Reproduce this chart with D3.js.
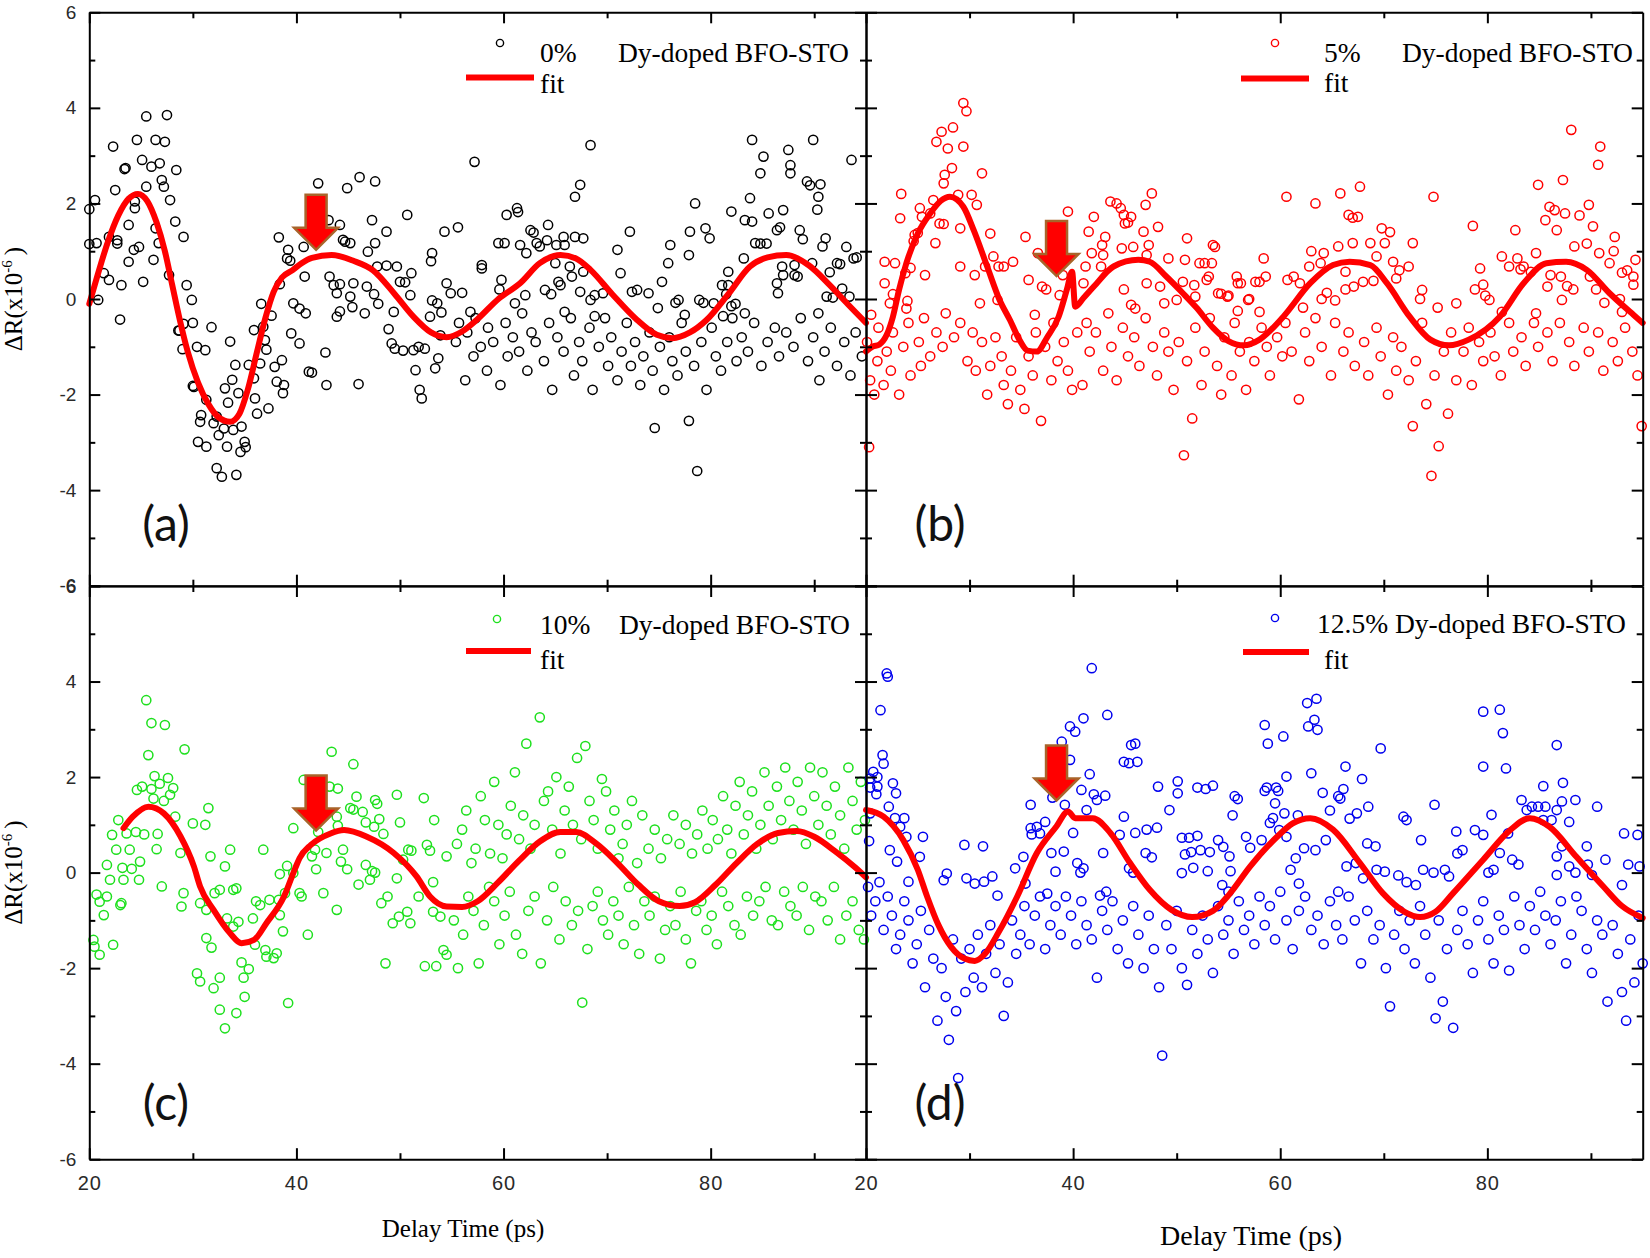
<!DOCTYPE html>
<html><head><meta charset="utf-8">
<script src="https://cdn.jsdelivr.net/npm/d3@7"></script>
<style>
html,body{margin:0;padding:0;background:#fff;}
svg{display:block;}
</style></head>
<body><svg id="chart" width="1650" height="1258"></svg>
<script>
const xMajorTicks = [20, 40, 60, 80];
const xMinorTicks = [30, 50, 70, 90];
const yMajorTicks = [-6, -4, -2, 0, 2, 4, 6];
const yMinorTicks = [-5, -3, -1, 1, 3, 5];
const xDomain = [20, 95];
const yDomain = [-6, 6];
const panelLetters = ["(a)", "(b)", "(c)", "(d)"];
const seriesLabels = ["0%", "5%", "10%", "12.5%"];
const seriesSuffix = "Dy-doped BFO-STO";
const fitLabel = "fit";
const xTitle = "Delay Time (ps)";
const arrowX = [41.9, 38.4, 41.9, 38.4];
const arrowY = [1.03, 0.48, 0.88, 1.51];

const dataA = [[20.0,1.88],[20.0,1.15],[20.55,2.07],[20.7,1.17],[20.86,-0.02],[21.4,0.54],[21.9,0.4],[21.9,1.3],[22.3,3.19],[22.5,2.28],[22.7,1.23],[22.7,1.16],[22.97,-0.43],[23.1,0.29],[23.4,2.72],[23.5,2.74],[23.8,1.55],[23.8,0.78],[24.3,1.03],[24.4,2.04],[24.4,1.9],[24.6,3.33],[24.8,1.09],[25.1,2.91],[25.2,0.36],[25.5,3.82],[25.5,2.35],[26.0,2.77],[26.2,0.82],[26.4,3.33],[26.4,1.48],[26.7,1.17],[26.8,2.84],[27.0,2.49],[27.2,2.35],[27.3,3.29],[27.5,3.85],[27.7,0.5],[27.8,2.07],[28.3,1.62],[28.4,2.7],[28.6,-0.66],[28.7,-0.66],[29.0,-1.05],[29.1,1.3],[29.1,-0.52],[29.4,0.29],[29.9,-0.02],[30.0,-0.5],[30.0,-1.82],[30.1,-1.84],[30.4,-1.0],[30.5,-2.99],[30.7,-2.57],[30.8,-2.43],[31.2,-1.07],[31.3,-2.11],[31.3,-3.09],[31.8,-0.59],[32.0,-2.6],[32.3,-2.46],[32.3,-3.54],[32.5,-2.85],[32.8,-3.72],[33.0,-2.71],[33.1,-1.87],[33.3,-3.09],[33.4,-2.17],[33.6,-0.89],[33.8,-1.69],[33.9,-2.74],[34.1,-1.38],[34.2,-3.68],[34.4,-1.97],[34.6,-3.2],[34.7,-2.67],[35.0,-2.99],[35.1,-3.1],[35.4,-1.38],[35.9,-1.66],[35.9,-0.65],[36.0,-2.08],[36.2,-2.4],[36.5,-1.35],[36.6,-0.1],[36.8,-0.58],[36.96,-0.86],[37.1,-1.06],[37.3,-2.29],[37.6,-0.35],[37.9,-1.42],[38.1,-1.73],[38.3,1.29],[38.4,0.31],[38.6,-1.28],[38.7,-1.97],[38.8,-1.8],[39.1,0.85],[39.2,1.03],[39.4,0.8],[39.5,-0.72],[39.7,-0.09],[40.3,-0.2],[40.3,-0.93],[40.7,1.09],[40.8,0.47],[40.9,-0.3],[41.2,-1.52],[41.5,-1.54],[42.1,2.42],[42.8,-1.12],[42.9,-1.8],[43.1,1.65],[43.2,0.47],[43.6,0.29],[43.9,0.12],[43.9,-0.37],[44.2,1.55],[44.2,0.31],[44.2,-0.26],[44.5,1.24],[44.7,1.2],[44.9,2.32],[45.2,1.17],[45.2,0.05],[45.4,-0.17],[45.5,0.33],[46.0,-1.78],[46.1,2.55],[46.6,-0.3],[46.8,0.26],[46.9,0.99],[47.3,1.65],[47.5,0.1],[47.6,2.46],[47.6,1.17],[47.8,0.68],[47.9,-0.1],[48.7,1.41],[48.7,0.70],[48.9,-0.63],[49.2,-0.93],[49.4,-0.27],[49.5,-1.04],[49.7,0.68],[50.0,0.36],[50.3,-1.08],[50.5,0.35],[50.7,1.76],[51.0,0.08],[51.1,0.54],[51.3,-1.07],[51.5,-1.49],[51.8,-1.0],[51.9,-1.9],[52.1,-2.08],[52.4,-1.04],[52.9,-0.37],[53.0,0.79],[53.1,0.96],[53.1,-0.03],[53.4,-1.45],[53.6,-0.09],[53.7,-1.24],[53.9,-0.76],[54.0,-0.28],[54.3,1.41],[54.5,0.33],[54.9,0.12],[55.6,1.5],[56.0,0.13],[56.8,-0.27],[57.2,2.87],[57.9,0.71],[57.9,0.64],[59.5,1.17],[59.6,0.2],[59.8,0.4],[60.1,1.17],[60.3,1.76],[61.1,-0.09],[61.3,1.9],[61.4,1.82],[61.6,1.13],[62.1,0.08],[62.2,0.96],[62.6,1.44],[62.9,1.39],[63.2,1.17],[63.5,1.1],[64.0,0.19],[64.2,1.23],[64.3,1.55],[64.6,0.1],[65.0,0.75],[65.1,1.13],[65.3,0.36],[65.5,0.29],[65.8,1.3],[65.9,1.13],[65.9,-0.27],[66.4,0.68],[66.6,0.47],[66.9,2.14],[66.9,1.3],[67.4,2.39],[67.4,0.15],[67.7,1.27],[67.7,0.57],[68.4,3.22],[68.4,-0.02],[68.8,0.08],[68.8,-0.36],[69.6,0.12],[71.0,1.03],[71.3,0.54],[72.2,1.41],[72.4,0.15],[72.9,0.19],[74.0,0.12],[74.9,-0.19],[75.3,0.36],[75.9,0.75],[76.1,1.13],[76.6,-0.08],[76.9,-0.02],[77.5,-0.33],[77.9,0.92],[78.0,1.41],[78.5,2.0],[78.9,-0.02],[79.3,-0.08],[79.5,1.48],[79.9,1.27],[80.3,-0.09],[81.1,0.29],[81.2,-0.36],[81.5,0.1],[81.7,0.57],[81.7,0.29],[82.0,1.83],[82.0,-0.15],[82.4,-0.1],[83.2,0.85],[83.3,1.65],[83.3,-0.3],[83.8,2.11],[84.0,3.33],[84.0,1.62],[84.3,1.17],[84.8,2.63],[84.8,1.16],[85.1,2.98],[85.4,1.16],[85.6,1.79],[86.4,1.44],[86.4,0.33],[86.5,0.12],[86.7,1.5],[86.9,0.68],[87.0,1.86],[87.0,0.5],[87.5,3.12],[87.7,2.8],[87.7,2.63],[88.1,0.71],[88.1,0.5],[88.4,0.47],[88.6,1.44],[88.9,1.25],[89.3,2.46],[89.6,2.38],[89.8,0.75],[89.9,3.33],[90.3,1.87],[90.4,2.14],[90.4,-0.3],[90.6,2.4],[90.8,1.1],[91.1,1.27],[91.2,0.05],[91.5,0.56],[91.8,0.03],[92.2,0.75],[92.5,0.73],[92.7,0.22],[93.1,1.09],[93.4,0.05],[93.6,2.91],[93.8,0.85],[94.1,0.87],
[55.4,-0.9],[55.7,-0.5],[56.3,-1.7],[56.5,-0.7],[57.1,-1.2],[57.3,-0.4],[57.8,-1.0],[58.4,-1.5],[58.5,-0.6],[59.0,-0.9],[59.7,-1.8],[60.2,-0.5],[60.4,-1.2],[60.9,-0.8],[61.5,-1.1],[61.8,-0.3],[62.3,-1.5],[62.7,-0.7],[63.1,-0.9],[63.9,-1.3],[64.4,-0.5],[64.7,-1.9],[65.2,-0.8],[65.8,-1.1],[66.5,-0.4],[66.8,-1.6],[67.3,-0.9],[67.6,-1.3],[68.3,-0.6],[68.6,-1.9],[69.2,-1.0],[69.8,-0.4],[70.1,-1.4],[70.4,-0.8],[71.0,-1.7],[71.4,-1.1],[71.9,-0.5],[72.3,-1.4],[72.7,-0.9],[73.2,-1.8],[73.5,-1.2],[74.1,-0.7],[74.4,-1.5],[74.6,-2.7],[75.1,-1.0],[75.5,-1.9],[76.0,-0.8],[76.3,-1.3],[76.8,-1.6],[77.2,-0.5],[77.6,-1.1],[77.9,-2.55],[78.4,-1.4],[78.7,-3.6],[79.1,-0.9],[79.6,-1.9],[80.1,-0.6],[80.5,-1.2],[81.0,-1.5],[81.6,-0.9],[82.1,-0.4],[82.5,-1.3],[83.0,-0.8],[83.6,-1.1],[84.2,-0.5],[84.9,-1.4],[85.5,-0.9],[86.2,-0.6],[86.6,-1.2],[87.3,-0.7],[88.0,-1.0],[88.7,-0.4],[89.4,-1.3],[89.9,-0.8],[90.5,-1.7],[91.0,-1.1],[91.6,-0.6],[92.2,-1.4],[92.9,-0.9],[93.5,-1.6],[94.0,-0.7],[94.6,-1.2]];

const fitA = [[20,-0.1],[20.8,0.5],[21.8,1.2],[22.8,1.75],[23.8,2.1],[24.7,2.2],[25.6,2.05],[26.5,1.6],[27.3,1.0],[28.0,0.3],[28.7,-0.4],[29.5,-1.1],[30.5,-1.75],[31.5,-2.2],[32.5,-2.48],[33.6,-2.57],[34.5,-2.4],[35.3,-1.9],[36.2,-1.1],[37.0,-0.4],[37.8,0.15],[38.6,0.45],[39.6,0.6],[40.5,0.75],[41.5,0.86],[43.4,0.92],[45.5,0.8],[47.4,0.6],[49.5,0.1],[51.3,-0.37],[53,-0.7],[54.5,-0.8],[56,-0.68],[57.4,-0.44],[59.5,0.0],[61.6,0.33],[63.5,0.75],[65.5,0.92],[67,0.85],[68.4,0.61],[70.5,0.1],[72.9,-0.44],[74.8,-0.75],[76.3,-0.82],[78,-0.7],[79.6,-0.44],[81.7,0.1],[83.8,0.68],[85.5,0.87],[87.3,0.92],[89.5,0.7],[91.5,0.29],[93.2,-0.1],[95,-0.5]];

const dataB = [[20.5,-0.33],[21.8,0.78],[21.8,0.33],[22.3,-0.09],[22.6,0.1],[22.8,0.75],[23.3,1.69],[23.4,2.2],[23.8,0.54],[23.9,-0.2],[24.0,-0.04],[24.3,0.65],[24.6,1.21],[24.7,1.34],[25.0,1.38],[25.2,1.9],[25.4,1.72],[25.7,0.5],[26.2,1.79],[26.5,2.07],[26.7,1.17],[26.8,3.29],[27.1,1.58],[27.3,3.5],[27.5,1.57],[27.5,2.42],[27.6,2.6],[27.9,3.15],[28.3,2.74],[28.4,3.59],[28.9,2.18],[29.1,1.48],[29.1,0.68],[29.4,4.1],[29.4,3.19],[29.7,3.93],[30.2,2.18],[30.5,0.5],[30.7,1.97],[31.0,-0.09],[31.2,2.63],[31.5,0.68],[32.0,1.37],[32.3,0.89],[32.7,-0.02],[32.8,0.68],[33.3,0.68],[34.2,0.78],[35.4,1.3],[35.7,0.4],[36.3,-0.33],[36.6,0.96],[37.0,0.26],[37.4,0.2],[38.7,0.08],[39.0,0.5],[39.5,1.83],[41.0,0.33],[41.2,0.68],[41.5,1.41],[41.8,0.96],[42.0,1.72],[42.7,0.68],[42.8,1.13],[42.9,0.92],[43.1,1.3],[43.6,2.04],[44.2,2.0],[44.6,1.9],[44.7,1.06],[44.9,1.76],[44.9,0.2],[45.0,1.58],[45.3,1.6],[45.6,1.72],[45.6,-0.12],[45.8,1.09],[46.0,-0.2],[46.8,1.41],[47.0,1.97],[47.1,0.92],[47.1,0.33],[47.3,1.13],[47.6,2.21],[48.2,1.51],[48.4,0.26],[48.8,-0.09],[49.2,0.85],[50.0,-0.02],[50.6,0.36],[50.8,0.82],[51.0,1.27],[51.7,0.29],[51.8,0.05],[52.2,0.75],[52.7,0.75],[52.9,0.40],[53.1,0.47],[53.4,0.75],[53.5,1.13],[53.7,1.09],[54.0,0.12],[54.3,0.11],[54.9,0.05],[55.0,0.07],[55.8,0.47],[55.9,0.33],[55.9,-0.25],[56.2,0.33],[56.9,-0.02],[57.0,0.0],[57.6,0.36],[58.0,0.36],[58.0,-0.27],[58.4,0.85],[58.6,0.47],[60.6,2.14],[60.7,0.4],[61.3,0.47],[61.9,0.33],[62.2,-0.18],[62.8,0.68],[63.0,1.0],[63.4,2.0],[63.9,0.75],[64.0,0.0],[64.2,0.96],[64.5,0.13],[65.3,-0.03],[65.6,1.1],[65.8,2.21],[66.3,0.57],[66.3,0.2],[66.6,1.76],[67.0,1.7],[67.0,1.17],[67.1,0.26],[67.5,1.72],[67.7,2.35],[68.0,0.36],[68.7,1.17],[69.0,0.38],[69.3,0.89],[69.8,1.48],[70.1,1.17],[70.6,1.4],[70.9,0.78],[71.2,0.43],[71.5,0.6],[72.4,0.68],[72.8,1.17],[73.5,0.0],[73.7,0.19],[74.8,2.14],[75.2,-0.18],[77.0,-0.09],[78.6,1.53],[78.8,0.2],[79.3,0.64],[79.6,0.3],[79.8,0.07],[80.2,-0.02],[81.4,0.89],[81.4,-0.27],[82.1,0.68],[82.7,1.44],[82.9,0.85],[83.2,0.62],[83.5,0.68],[84.2,0.57],[84.7,0.96],[84.7,-0.3],[84.9,2.39],[85.6,1.65],[85.8,0.26],[86.0,1.93],[86.1,0.5],[86.5,1.86],[86.7,1.44],[87.1,0.47],[87.2,-0.02],[87.3,2.49],[87.5,1.79],[87.7,0.27],[88.1,3.54],[88.3,0.2],[88.4,1.1],[88.9,1.75],[89.6,1.16],[89.8,1.97],[89.9,0.47],[90.2,1.52],[90.5,0.2],[90.7,2.81],[90.8,0.96],[90.9,3.19],[91.3,-0.08],[91.8,0.75],[92.2,1.0],[92.3,1.3],[92.8,0.0],[93.0,0.55],[93.0,-0.27],[93.5,0.6],[94.1,0.47],[94.1,0.3],[94.3,0.82],
[20.1,-0.9],[20.3,-3.1],[20.4,-1.7],[20.8,-2.0],[21.1,-1.3],[21.2,-0.6],[21.7,-1.8],[22.0,-1.1],[22.4,-1.5],[22.6,-0.7],[23.2,-2.0],[23.6,-1.0],[24.1,-0.5],[24.3,-1.6],[25.1,-0.9],[25.3,-1.4],[25.6,-0.4],[26.2,-1.2],[26.8,-0.7],[27.4,-1.0],[27.7,-0.3],[28.5,-0.8],[29.1,-0.5],[29.8,-1.3],[30.3,-0.7],[30.6,-1.5],[31.2,-0.9],[31.7,-2.0],[32.0,-1.4],[32.5,-0.8],[33.1,-1.2],[33.3,-1.8],[33.7,-2.2],[34.0,-1.5],[34.5,-0.8],[34.9,-1.9],[35.3,-2.3],[35.7,-1.2],[36.1,-1.6],[36.4,-0.7],[36.9,-2.55],[37.3,-1.0],[37.9,-1.7],[38.1,-0.5],[38.5,-1.3],[39.1,-0.9],[39.5,-1.5],[39.9,-1.9],[40.4,-0.7],[40.9,-1.8],
[41.3,-0.5],[41.6,-1.1],[42.2,-0.7],[42.9,-1.5],[43.4,-0.3],[43.7,-1.0],[44.2,-1.7],[44.8,-0.6],[45.3,-1.2],[45.9,-0.8],[46.4,-1.4],[47.0,-0.4],[47.7,-1.0],[48.1,-1.6],[48.8,-0.7],[49.2,-1.1],[49.7,-1.9],[50.2,-0.9],[50.7,-3.27],[51.0,-1.3],[51.5,-2.5],[51.8,-0.6],[52.4,-1.8],[52.7,-1.1],[53.2,-0.4],[53.9,-1.4],[54.3,-2.0],[54.6,-0.8],[55.3,-1.6],[55.6,-0.5],[56.1,-1.1],[56.7,-1.9],[57.0,-0.9],[57.5,-1.3],[58.2,-0.6],[58.7,-1.0],[59.0,-1.6],[59.7,-0.8],[60.2,-1.2],[60.5,-0.5],[61.1,-1.1],[61.8,-2.1],[62.4,-0.7],[62.8,-1.3],[63.4,-0.4],[64.0,-1.0],[64.9,-1.6],[65.3,-0.5],[66.1,-1.1],[66.6,-0.7],[67.2,-1.4],[68.1,-0.9],[68.5,-1.6],[69.3,-0.6],[69.7,-1.2],[70.4,-2.0],[70.9,-0.8],[71.2,-1.5],[71.7,-1.0],[72.4,-1.7],[72.8,-2.66],[73.1,-1.3],[73.7,-0.5],[74.1,-2.2],[74.6,-3.7],[74.9,-1.6],[75.3,-3.08],[75.8,-1.1],[76.2,-2.4],[76.5,-0.7],[77.0,-1.7],[77.7,-1.1],[78.2,-0.6],[78.5,-1.8],[79.2,-0.9],[79.6,-1.3],[80.3,-0.7],[80.7,-1.2],[81.3,-1.6],[82.1,-0.5],[82.5,-1.1],[83.3,-0.8],[83.7,-1.4],[84.5,-0.5],[84.9,-1.0],[85.8,-0.7],[86.3,-1.3],[87.0,-0.5],[87.9,-0.9],[88.4,-1.4],[89.3,-0.6],[89.8,-1.1],[90.7,-0.7],[91.2,-1.5],[92.1,-0.9],[92.6,-1.3],[93.3,-0.6],[94.0,-1.1],[94.5,-1.6],[94.9,-2.66]];

const fitB = [[20,-1.1],[20.6,-1.0],[21.3,-0.95],[22,-0.75],[22.6,-0.37],[23.2,0.2],[23.9,0.75],[25,1.37],[26.2,1.79],[27.2,2.05],[28.1,2.14],[29.4,1.93],[30.4,1.44],[31.7,0.68],[32.9,-0.02],[33.9,-0.44],[34.8,-0.85],[35.6,-1.08],[36.5,-1.1],[37.5,-0.8],[38.6,-0.37],[39.4,0.2],[39.9,0.57],[40.2,-0.16],[41,0.02],[42,0.26],[43.9,0.68],[46.3,0.82],[47.4,0.78],[49,0.47],[50.6,0.12],[51.9,-0.18],[53.5,-0.6],[55,-0.88],[56.5,-0.97],[58,-0.85],[60.3,-0.37],[62.9,0.33],[65.1,0.71],[66.7,0.78],[68.7,0.71],[70.3,0.33],[72.5,-0.37],[74.5,-0.85],[76.3,-0.97],[78.2,-0.85],[81.2,-0.37],[83.5,0.33],[85.7,0.75],[87.6,0.78],[89.6,0.61],[91.8,0.12],[94.1,-0.33],[95,-0.5]];

const dataC = [[25.5,3.61],[26.0,3.13],[27.3,3.09],[25.7,2.46],[29.2,2.58],[26.3,2.02],[27.6,1.98],[24.6,1.73],[25.1,1.8],[26.0,1.75],[26.8,1.86],[28.1,1.77],[27.8,1.63],[26.2,1.55],[27.2,1.5],[31.5,1.35],[22.8,1.1],[28.3,1.17],[30.0,1.03],[31.2,1.0],[22.2,0.79],[23.6,0.82],[24.5,0.85],[25.3,0.8],[26.6,0.81],[22.6,0.48],[23.9,0.48],[26.5,0.49],[24.9,0.23],[28.8,0.41],[31.7,0.34],[33.6,0.48],[36.8,0.48],[33.1,0.13],[21.7,0.16],[23.2,0.1],[24.1,0.08],[39.7,0.93],[40.7,1.94],[43.4,2.53],[45.5,2.27],[43.2,1.8],[44.0,1.76],[45.8,1.59],[45.2,1.35],[45.5,1.32],[46.4,1.27],[47.6,1.52],[47.8,1.44],[49.7,1.63],[52.3,1.56],[53.3,1.1],[50.0,1.05],[48.0,1.12],[46.7,1.05],[43.9,1.17],[44.0,0.98],[42.1,0.85],[48.4,0.81],[47.5,0.96],[44.5,0.48],[42.9,0.41],[44.3,0.23],[44.9,0.07],[46.7,0.16],[47.3,0.03],[50.3,0.27],[50.8,0.48],[51.1,0.46],[52.6,0.58],[52.9,0.46],[54.5,0.34],[49.7,-0.12],[41.9,0.07],[39.1,0.14],[38.4,-0.03],[41.5,0.34],[41.8,0.48],
[20.4,-1.41],[20.5,-1.55],[21.0,-1.72],[22.3,-1.51],[21.4,-0.89],[20.7,-0.46],[21.0,-0.61],[21.7,-0.5],[23.1,-0.64],[23.0,-0.68],[22.0,-0.15],[23.3,-0.15],[24.8,-0.15],[27.0,-0.29],[29.1,-0.43],[28.9,-0.71],[30.4,-2.11],[30.7,-2.28],[31.3,-1.37],[31.8,-1.57],[32.0,-2.42],[32.6,-2.2],[32.6,-2.87],[33.1,-3.26],[34.2,-2.94],[35.0,-2.6],[34.9,-2.2],[35.4,-2.02],[34.7,-1.88],[30.7,-0.64],[31.3,-0.78],[32.1,-0.43],[32.6,-0.36],[33.9,-0.36],[34.2,-0.33],[33.3,-0.96],[33.9,-1.13],[34.4,-1.03],[35.8,-0.96],[36.1,-0.6],[36.5,-0.68],[37.4,-0.57],[38.3,-0.57],[38.9,-0.43],[36.0,-1.51],[37.1,-1.76],[38.1,-1.69],[37.8,-1.79],[37.0,-1.62],[38.7,-1.23],[38.4,-0.89],[39.2,-2.73],[39.7,-0.01],[40.3,-0.43],[40.5,-0.5],[41.1,-1.3],[42.6,-0.43],[43.9,-0.78],[46.0,-0.25],[47.1,-0.15],[47.6,0.0],[48.6,-1.9],[48.2,-0.64],[48.8,-0.5],[49.3,-1.06],[49.9,-0.92],[50.7,-0.82],[51.0,-1.06],[52.4,-1.96],[53.5,-1.96],[54.2,-1.62],[54.5,-1.72],[53.2,-0.82],[53.9,-0.92],[51.8,-0.5],[53.2,-0.2],
[55.5,0.6],[56.0,0.9],[56.4,1.3],[56.9,0.2],[57.3,0.5],[57.8,1.6],[58.2,1.1],[58.7,0.4],[59.1,1.9],[59.5,1.0],[59.9,0.3],[60.3,0.8],[60.7,1.4],[61.1,2.1],[61.5,0.7],[61.9,1.2],[62.2,2.7],[62.6,0.5],[63.0,1.0],[63.5,3.25],[63.9,1.5],[64.3,1.7],[64.7,0.9],[65.1,2.0],[65.5,0.4],[65.9,1.3],[66.3,1.8],[66.7,1.0],[67.1,2.4],[67.5,0.7],[67.9,2.65],[68.3,1.5],[68.7,1.1],[69.1,0.5],[69.5,1.96],[69.9,1.7],[70.3,0.9],[70.7,1.3],[71.1,0.3],[71.5,0.6],[71.9,1.0],[72.4,1.5],[72.9,0.2],[73.4,1.2],[74.0,0.5],[74.6,0.9],[75.2,0.3],[75.8,0.7],[76.4,1.2],[77.0,0.6],[77.6,1.0],[78.2,0.4],[78.7,0.8],[79.2,1.3],[79.7,0.5],[80.2,1.1],[80.7,0.7],[81.2,1.6],[81.6,0.9],[82.0,0.4],[82.4,1.4],[82.8,1.9],[83.2,0.8],[83.6,1.2],[84.0,1.7],[84.4,0.5],[84.8,1.0],[85.2,2.1],[85.6,1.4],[86.0,0.7],[86.4,1.8],[86.8,1.1],[87.2,2.2],[87.6,1.5],[88.0,0.9],[88.4,1.9],[88.8,1.3],[89.2,0.6],[89.6,2.2],[90.0,1.6],[90.4,1.0],[90.8,2.1],[91.2,1.4],[91.6,0.8],[92.0,1.8],[92.5,1.2],[92.9,0.5],[93.3,2.2],[93.7,1.5],[94.1,0.9],[94.5,1.9],[94.9,1.1],
[55.2,-1.0],[55.6,-2.0],[56.1,-1.3],[56.6,-0.5],[57.1,-0.8],[57.6,-1.9],[58.1,-1.1],[58.6,-0.3],[59.1,-0.6],[59.6,-1.5],[60.1,-0.9],[60.6,-0.4],[61.2,-1.3],[61.8,-1.7],[62.4,-0.8],[63.0,-0.5],[63.6,-1.9],[64.2,-1.0],[64.8,-0.3],[65.4,-1.4],[66.0,-0.6],[66.6,-1.1],[67.2,-0.8],[67.6,-2.72],[68.1,-1.6],[68.6,-0.7],[69.1,-0.4],[69.6,-1.0],[70.1,-1.3],[70.6,-0.6],[71.1,-0.9],[71.6,-1.5],[72.1,-0.3],[72.6,-1.1],[73.1,-1.7],[73.6,-0.6],[74.1,-0.9],[74.6,-0.5],[75.1,-1.8],[75.6,-1.2],[76.1,-0.7],[76.6,-1.1],[77.1,-0.4],[77.6,-1.4],[78.1,-1.9],[78.6,-0.8],[79.1,-0.6],[79.6,-1.2],[80.1,-0.9],[80.6,-1.5],[81.1,-0.4],[81.7,-0.7],[82.3,-1.1],[82.9,-1.3],[83.5,-0.5],[84.1,-0.9],[84.7,-0.6],[85.3,-0.3],[85.9,-1.0],[86.5,-1.1],[87.1,-0.4],[87.7,-0.7],[88.3,-0.9],[88.9,-0.3],[89.5,-1.2],[90.1,-0.5],[90.7,-0.6],[91.3,-1.0],[91.9,-0.3],[92.5,-1.4],[93.1,-0.9],[93.7,-0.6],[94.3,-1.2],[94.8,-1.4]];

const fitC = [[23.3,0.93],[24.2,1.17],[25.7,1.38],[27.2,1.24],[28.8,0.76],[30.1,0.13],[30.7,-0.29],[32,-0.78],[33.6,-1.27],[34.7,-1.48],[35.9,-1.41],[37.1,-1.06],[38.8,-0.5],[39.9,0.1],[40.3,0.3],[41.4,0.58],[43.3,0.82],[44.6,0.89],[46.8,0.75],[49.4,0.41],[51.6,-0.08],[52.9,-0.5],[54.5,-0.71],[56,-0.72],[57.5,-0.6],[59.5,-0.2],[61.5,0.25],[63.5,0.65],[65.5,0.85],[67,0.85],[69,0.6],[71,0.2],[73,-0.25],[75,-0.6],[77,-0.7],[78.5,-0.62],[80.5,-0.25],[82.5,0.2],[84.5,0.6],[86.5,0.83],[88.3,0.87],[90,0.75],[92,0.45],[94,0.1],[95,-0.1]];

const dataD = [[22.0,4.17],[22.1,4.1],[21.4,3.4],[21.6,2.46],[21.7,2.28],[20.7,2.11],[20.4,1.97],[21.1,2.0],[20.4,1.78],[21.1,1.8],[22.6,1.87],[22.9,1.66],[21.0,1.64],[22.2,1.38],[20.4,1.24],[22.8,1.14],[23.7,1.14],[23.3,0.96],[23.9,0.75],[25.5,0.75],[20.3,0.66],[22.3,0.47],[23.0,0.23],[25.2,0.33],[24.1,-0.19],[27.5,-0.16],[27.8,-0.02],[29.5,0.58],[31.3,0.55],[29.7,-0.12],[30.5,-0.23],[31.4,-0.19],[32.2,-0.08],[32.7,-0.48],[34.4,0.09],[35.2,0.33],[35.9,0.93],[36.0,0.8],[36.5,0.96],[36.8,0.82],[37.3,1.06],[35.9,1.42],[35.4,-0.23],[37.5,-0.44],[37.9,0.41],[39.1,0.44],[38.3,0.02],[38.9,2.74],[39.7,2.36],[39.7,3.06],[40.2,2.95],[41.0,3.23],[41.8,4.28],[43.3,3.3],[38.0,1.57],[39.2,1.42],[40.8,1.73],[41.6,2.06],[42.0,1.64],[42.3,1.52],[43.1,1.61],[41.3,1.31],[40.0,0.83],[40.4,0.2],[41.0,0.09],[40.7,0.0],[42.9,0.41],[42.6,-0.48],[43.2,-0.4],[44.9,2.32],[45.4,2.29],[45.6,2.67],[46.0,2.7],[46.2,2.32],[44.9,1.17],[46.0,0.83],[44.5,0.79],[45.4,0.09],[45.8,0.0],[47.0,0.41],[47.6,0.32],[47.1,0.9],[48.1,0.94],[48.2,1.8],[49.3,1.31],[50.1,1.91],[50.1,1.66],[52.0,1.78],[52.8,1.75],[53.5,1.82],[50.5,0.73],[51.2,0.73],[52.0,0.77],[50.8,0.38],[51.4,0.43],[52.3,0.47],[53.2,0.43],[54.0,0.68],[54.5,0.54],[55.1,0.34],[55.6,1.6],[55.4,1.2],[55.9,1.54],[56.7,0.75],[57.1,0.52],[58.5,3.09],[58.8,2.7],[58.7,1.78],[59.6,1.78],[59.3,1.14],[59.9,0.89],[50.5,-0.01],[51.6,0.1],[53.0,0.03],[55.2,0.03],[54.4,-0.26],[55.0,-0.4],
[62.6,3.55],[63.5,3.64],[62.7,3.06],[63.6,2.99],[63.3,3.2],[60.3,2.85],[60.6,2.01],[63.0,2.08],[66.3,2.22],[67.9,1.96],[69.7,2.6],[58.5,1.71],[59.8,1.71],[59.5,1.45],[64.1,1.67],[64.8,1.3],[65.6,1.6],[66.1,1.75],[65.8,1.55],[60.4,1.24],[61.7,1.2],[59.0,1.04],[66.7,1.13],[67.4,1.24],[68.5,1.38],[71.9,1.17],[72.2,1.1],[74.9,1.42],[73.6,0.68],[60.6,0.75],[58.2,0.68],[62.3,0.51],[63.4,0.47],[64.4,0.68],[61.5,0.3],[61.0,0.06],[61.8,-0.23],[65.6,-0.4],[68.4,0.61],[69.2,0.55],[66.4,0.13],[67.3,0.2],[68.0,-0.12],[69.3,0.06],[70.1,0.02],[71.4,-0.06],[72.2,-0.2],[73.1,-0.26],[73.8,0.06],[74.8,0.0],[75.9,0.06],[76.3,-0.08],[77.0,0.86],[77.6,0.47],[77.1,0.4],[78.8,0.89],[79.6,0.79],[80.4,1.21],[80.1,0.0],[80.6,0.06],[81.2,0.41],[82.0,0.82],[82.4,0.27],[83.0,0.17],[83.3,1.52],[83.8,1.31],[84.3,1.38],[84.9,1.38],[85.4,1.81],[85.6,1.38],[85.4,1.1],[86.2,1.1],[86.7,1.31],[87.3,1.88],[87.2,1.49],[87.9,1.06],[88.5,1.52],[90.6,1.38],[86.7,2.67],[79.6,3.37],[81.2,3.41],[81.5,2.92],[79.6,2.22],[81.8,2.18],[86.7,0.34],[87.2,0.55],[87.9,0.13],[88.5,0.0],[86.7,-0.05],[89.6,0.55],[89.7,0.17],[91.4,0.27],[90.1,-0.05],[93.2,0.82],[94.5,0.79],[93.6,0.17],[94.7,0.13],[93.0,-0.26],
[20.2,-0.3],[20.5,-0.9],[20.9,-0.6],[21.3,-0.2],[21.7,-1.2],[22.1,-0.5],[22.5,-0.9],[22.9,-1.6],[23.3,-1.3],[23.7,-0.6],[24.1,-1.0],[24.5,-1.9],[24.9,-1.5],[25.3,-0.8],[25.7,-2.4],[26.1,-1.2],[26.5,-1.8],[26.9,-3.1],[27.3,-2.0],[27.7,-2.6],[28.0,-3.5],[28.4,-1.4],[28.7,-2.9],[28.9,-4.3],[29.2,-1.8],[29.6,-2.5],[30.0,-1.6],[30.4,-2.2],[30.8,-1.3],[31.2,-2.4],[31.6,-1.7],[32.0,-1.1],[32.5,-2.1],[32.9,-1.5],[33.3,-3.0],[33.7,-2.3],[34.1,-1.0],[34.5,-1.7],[34.9,-1.3],[35.3,-0.7],[35.8,-1.5],[36.3,-0.9],[36.8,-0.5],[37.3,-1.6],[37.8,-1.1],[38.3,-0.7],[38.8,-1.3],[39.3,-0.5],[39.8,-0.9],[40.3,-1.5],[40.8,-0.6],[41.3,-1.1],[41.8,-1.4],[42.3,-2.2],[42.8,-0.8],[43.3,-1.2],[43.8,-0.6],[44.3,-1.6],[44.8,-1.0],[45.3,-1.9],[45.8,-0.7],[46.3,-1.3],[46.8,-2.0],[47.3,-0.9],[47.8,-1.6],[48.3,-2.4],[48.6,-3.83],[49.0,-1.1],[49.5,-1.6],[50.0,-0.8],[50.5,-2.0],[51.0,-2.35],[51.5,-1.2],[52.0,-1.7],[52.5,-0.9],[53.0,-1.4],[53.5,-2.1],[54.0,-0.7],[54.5,-1.3],[55.0,-1.0],[55.5,-1.7],[56.0,-0.6],[56.5,-1.2],[57.0,-0.9],[57.5,-1.5],[58.0,-0.5],[58.5,-1.1],[59.0,-0.7],[59.5,-1.4],[60.0,-0.4],[60.6,-1.0],[61.2,-1.6],[61.8,-0.8],[62.4,-0.5],[63.0,-1.2],[63.6,-0.9],[64.2,-1.5],[64.8,-0.6],[65.4,-1.1],[66.0,-1.4],[66.6,-0.5],[67.2,-1.0],[67.8,-1.9],[68.4,-0.8],[69.0,-1.4],[69.6,-1.1],[70.2,-2.0],[70.6,-2.8],[71.0,-1.3],[71.5,-0.8],[72.0,-1.6],[72.5,-1.0],[73.0,-1.9],[73.5,-0.7],[74.0,-1.3],[74.5,-2.2],[75.0,-3.05],[75.3,-1.0],[75.7,-2.7],[76.1,-1.6],[76.7,-3.25],[77.1,-1.2],[77.6,-0.8],[78.1,-1.5],[78.6,-2.1],[79.1,-1.0],[79.6,-0.6],[80.1,-1.4],[80.6,-1.9],[81.1,-0.9],[81.6,-1.2],[82.1,-2.05],[82.6,-0.5],[83.1,-1.1],[83.6,-1.6],[84.1,-0.7],[84.6,-1.2],[85.1,-0.4],[85.6,-0.9],[86.1,-1.5],[86.6,-1.0],[87.1,-0.6],[87.6,-1.9],[88.1,-1.3],[88.6,-0.5],[89.1,-0.8],[89.6,-1.6],[90.1,-2.1],[90.6,-1.0],[91.1,-1.3],[91.6,-2.7],[92.1,-1.1],[92.6,-1.7],[93.0,-2.5],[93.4,-3.1],[93.8,-1.4],[94.2,-2.3],[94.6,-0.9],[95.0,-1.9]];

const fitD = [[20,1.31],[21.7,1.17],[23.6,0.68],[25,0.06],[25.9,-0.5],[27,-1.1],[28.2,-1.55],[29.5,-1.8],[30.5,-1.85],[31.5,-1.7],[32.8,-1.25],[34.6,-0.5],[36.5,0.41],[38.4,0.97],[39.5,1.28],[40.2,1.14],[41.9,1.14],[43.6,0.83],[45.5,0.2],[47.4,-0.36],[49.5,-0.78],[51.5,-0.93],[53.5,-0.8],[55.1,-0.45],[57.1,0.13],[59.7,0.75],[61.2,1.03],[62.9,1.14],[65.1,0.9],[67.7,0.2],[69.9,-0.43],[72,-0.82],[73.5,-0.93],[75,-0.82],[76.7,-0.43],[79.6,0.27],[82.2,0.89],[84.1,1.14],[86,0.96],[88.6,0.33],[91.2,-0.29],[93,-0.7],[95,-0.95]];

// ---------- layout ----------
const svg = d3.select("#chart");
const colX = [[89.3, 866], [866, 1642.7]];
const rowY = [[585.7, 12.3], [1159.2, 586]];
const SERIF = "'Liberation Serif','Times New Roman',serif";
const SANS = "'Liberation Sans',Arial,sans-serif";
const LEG_FS = 27.5;

const panels = [
  {data: dataA, fit: fitA, color: "#000000", col: 0, row: 0,
   lg: {cx: 500, cy: 43, lx1: 466, lx2: 534, ly: 77.5, tx: 540, ty: 62, sx: 618, fy: 93}},
  {data: dataB, fit: fitB, color: "#ff0000", col: 1, row: 0,
   lg: {cx: 1275, cy: 43, lx1: 1241, lx2: 1309, ly: 78.5, tx: 1324, ty: 62, sx: 1402, fy: 92}},
  {data: dataC, fit: fitC, color: "#1ee01e", col: 0, row: 1,
   lg: {cx: 497, cy: 619, lx1: 466, lx2: 531, ly: 651, tx: 540, ty: 634, sx: 619, fy: 669}},
  {data: dataD, fit: fitD, color: "#0000ee", col: 1, row: 1,
   lg: {cx: 1275, cy: 618, lx1: 1243, lx2: 1309, ly: 652, tx: 1317, ty: 633, sx: null, fy: 669}}
];
const letterPos = [[166, 541], [940, 541], [166, 1120], [940, 1120]];
const tickFmt = d => String(d);

function styleAxis(sel, w) {
  sel.selectAll(".domain").attr("stroke", "#000").attr("stroke-width", 2);
  sel.selectAll(".tick line").attr("stroke", "#000").attr("stroke-width", w);
  sel.selectAll(".tick text").attr("font-family", SANS).attr("fill", "#2a2a2a");
}

panels.forEach((p, i) => {
  const x = d3.scaleLinear().domain(xDomain).range(colX[p.col]);
  const y = d3.scaleLinear().domain(yDomain).range(rowY[p.row]);
  const g = svg.append("g");
  const [xl, xr] = x.range();
  const [yb, yt] = y.range();

  // scatter
  g.append("g").selectAll("circle").data(p.data).join("circle")
    .attr("cx", d => x(d[0])).attr("cy", d => y(d[1])).attr("r", 4.6)
    .attr("fill", "none").attr("stroke", p.color).attr("stroke-width", 1.5);

  // fit
  const line = d3.line().x(d => x(d[0])).y(d => y(d[1])).curve(d3.curveMonotoneX);
  g.append("path").datum(p.fit).attr("d", line)
    .attr("fill", "none").attr("stroke", "#ff0000").attr("stroke-width", 6)
    .attr("stroke-linejoin", "round").attr("stroke-linecap", "round");

  // arrow
  const ax = x(arrowX[i]), ay = y(arrowY[i]);
  const arrowPath = d3.path();
  arrowPath.moveTo(ax - 10.5, ay - 55); arrowPath.lineTo(ax + 10.5, ay - 55);
  arrowPath.lineTo(ax + 10.5, ay - 22); arrowPath.lineTo(ax + 22, ay - 22);
  arrowPath.lineTo(ax, ay); arrowPath.lineTo(ax - 22, ay - 22);
  arrowPath.lineTo(ax - 10.5, ay - 22); arrowPath.closePath();
  g.append("path").attr("d", arrowPath.toString())
    .attr("fill", "#ff0000").attr("stroke", "#a8642a").attr("stroke-width", 2.5)
    .attr("stroke-linejoin", "miter");

  // axes: major
  const showY = p.col === 0, showX = p.row === 1;
  const left = g.append("g").attr("transform", `translate(${xl},0)`)
    .call(d3.axisLeft(y).tickValues(yMajorTicks).tickSize(-11).tickSizeOuter(0).tickPadding(13)
      .tickFormat(showY ? tickFmt : () => ""));
  left.selectAll("text").attr("font-size", 19);
  styleAxis(left, 2);
  const right = g.append("g").attr("transform", `translate(${xr},0)`)
    .call(d3.axisRight(y).tickValues(yMajorTicks).tickSize(-11).tickSizeOuter(0).tickFormat(() => ""));
  styleAxis(right, 2);
  const bottom = g.append("g").attr("transform", `translate(0,${yb})`)
    .call(d3.axisBottom(x).tickValues(xMajorTicks).tickSize(-11).tickSizeOuter(0).tickPadding(17)
      .tickFormat(showX ? tickFmt : () => ""));
  bottom.selectAll("text").attr("font-size", 20).attr("letter-spacing", 1);
  styleAxis(bottom, 2);
  const top = g.append("g").attr("transform", `translate(0,${yt})`)
    .call(d3.axisTop(x).tickValues(xMajorTicks).tickSize(-11).tickSizeOuter(0).tickFormat(() => ""));
  styleAxis(top, 2);
  // minor ticks
  [[d3.axisLeft(y), xl, 0, yMinorTicks], [d3.axisRight(y), xr, 0, yMinorTicks],
   [d3.axisBottom(x), 0, yb, xMinorTicks], [d3.axisTop(x), 0, yt, xMinorTicks]].forEach(([ax0, tx, ty, vals]) => {
    const m = g.append("g").attr("transform", `translate(${tx},${ty})`)
      .call(ax0.tickValues(vals).tickSize(-6).tickSizeOuter(0).tickFormat(() => ""));
    m.select(".domain").remove();
    m.selectAll(".tick line").attr("stroke", "#000").attr("stroke-width", 2);
  });

  // legend
  const lg = p.lg;
  g.append("circle").attr("cx", lg.cx).attr("cy", lg.cy).attr("r", 3.6)
    .attr("fill", "none").attr("stroke", p.color).attr("stroke-width", 1.4);
  g.append("line").attr("x1", lg.lx1).attr("x2", lg.lx2).attr("y1", lg.ly).attr("y2", lg.ly)
    .attr("stroke", "#ff0000").attr("stroke-width", 6);
  if (lg.sx === null) {
    g.append("text").attr("x", lg.tx).attr("y", lg.ty).text(seriesLabels[i] + " " + seriesSuffix)
      .attr("font-family", SERIF).attr("font-size", LEG_FS).attr("fill", "#000");
  } else {
    g.append("text").attr("x", lg.tx).attr("y", lg.ty).text(seriesLabels[i])
      .attr("font-family", SERIF).attr("font-size", LEG_FS).attr("fill", "#000");
    g.append("text").attr("x", lg.sx).attr("y", lg.ty).text(seriesSuffix)
      .attr("font-family", SERIF).attr("font-size", LEG_FS).attr("fill", "#000");
  }
  g.append("text").attr("x", i === 3 ? 1324 : lg.tx).attr("y", lg.fy).text(fitLabel)
    .attr("font-family", SERIF).attr("font-size", LEG_FS).attr("fill", "#000");

  // panel letter
  g.append("text").attr("x", letterPos[i][0]).attr("y", letterPos[i][1]).text(panelLetters[i])
    .attr("text-anchor", "middle").attr("font-family", "Lato, 'Open Sans', sans-serif")
    .attr("font-size", 48).attr("fill", "#111");

  // y title
  if (p.col === 0) {
    const cy = (yb + yt) / 2;
    const t = g.append("text").attr("transform", `translate(22,${cy}) rotate(-90)`)
      .attr("text-anchor", "middle").attr("font-family", SERIF).attr("font-size", 25).attr("fill", "#000");
    t.append("tspan").text("\u0394R(x10");
    t.append("tspan").text("-6").attr("font-size", 15).attr("dy", -10);
    t.append("tspan").text("\u2009)").attr("dy", 10);
  }
});

// x titles
svg.append("text").attr("x", 463).attr("y", 1237).attr("text-anchor", "middle")
  .attr("font-family", SERIF).attr("font-size", 25).text(xTitle);
svg.append("text").attr("x", 1251).attr("y", 1245).attr("text-anchor", "middle")
  .attr("font-family", SERIF).attr("font-size", 28).text(xTitle);
</script>
</body></html>
